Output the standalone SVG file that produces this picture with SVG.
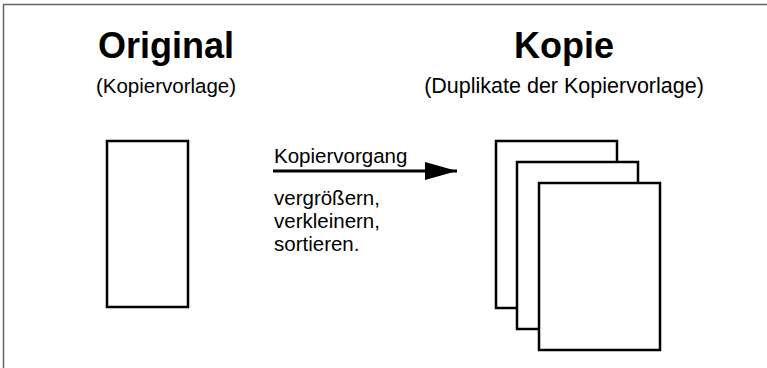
<svg xmlns="http://www.w3.org/2000/svg" width="767" height="368" viewBox="0 0 767 368">
<style>
.title{font-family:"Liberation Sans",Arial,sans-serif;font-weight:bold;font-size:36px;fill:#000;text-anchor:middle}
.sub{font-family:"Liberation Sans",Arial,sans-serif;font-size:20.5px;fill:#000;text-anchor:middle}
.lbl{font-family:"Liberation Sans",Arial,sans-serif;font-size:20.5px;fill:#000}
.page{fill:#fff;stroke:#000;stroke-width:2.5}
</style>
<defs>
<marker id="ah" markerWidth="32" markerHeight="18" refX="32" refY="9" orient="auto" markerUnits="userSpaceOnUse">
<path d="M0,0 L32,9 L0,18 z" fill="#000"/>
</marker>
</defs>
<rect width="767" height="368" fill="#fff"/>
<path d="M3.5,368 V4.5 H767" fill="none" stroke="#666" stroke-width="1.5"/>
<g id="original">
<text class="title" x="166" y="58">Original</text>
<text class="sub" x="166" y="93">(Kopiervorlage)</text>
<rect class="page" x="107" y="141" width="81" height="166"/>
</g>
<g id="kopie">
<text class="title" x="564" y="58">Kopie</text>
<text class="sub" x="564" y="93" style="font-size:21.5px">(Duplikate der Kopiervorlage)</text>
<rect class="page" x="496" y="141" width="121" height="167"/>
<rect class="page" x="517" y="162" width="121" height="167"/>
<rect class="page" x="539" y="183" width="121" height="167"/>
</g>
<g id="connectors">
<line x1="273" y1="171" x2="457" y2="171" stroke="#000" stroke-width="3" marker-end="url(#ah)"/>
<text class="lbl" x="274" y="163">Kopiervorgang</text>
<text class="lbl" x="274" y="205">vergrößern,</text>
<text class="lbl" x="274" y="228">verkleinern,</text>
<text class="lbl" x="274" y="251">sortieren.</text>
</g>
</svg>
